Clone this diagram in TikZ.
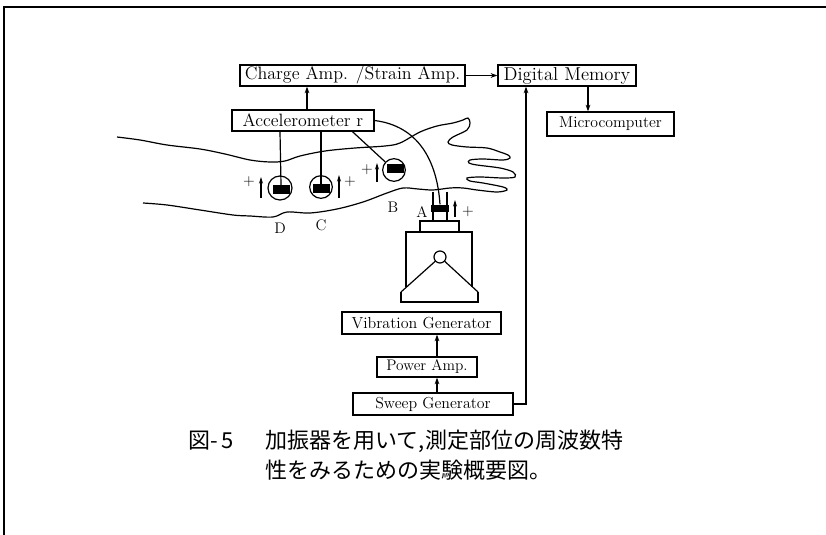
\documentclass[tikz,border=0pt]{standalone}
\usepackage{fontspec}
\newfontfamily\cjk{Noto Sans CJK JP}
\usetikzlibrary{arrows.meta,calc}

\tikzset{every picture/.style={line width=0.9pt}}
\tikzset{
  blk/.style={draw, inner sep=0pt, font=\fontsize{12}{14}\selectfont},
  arr/.style={-{Stealth[length=5pt,width=3.5pt]}},
  pol/.style={-{Stealth[length=5pt,width=3pt]}, line width=0.8pt},
  lbl/.style={inner sep=0.75pt, font=\fontsize{11.5}{13}\selectfont},
  pickup/.style={draw, circle, inner sep=0pt, minimum size=17pt},
  gauge/.style={fill=black, inner sep=0pt, minimum width=12.75pt, minimum height=6.75pt},
  captxt/.style={inner sep=0pt, anchor=west, font=\cjk\fontsize{16.5}{18}\selectfont},
}

\begin{document}
\begin{tikzpicture}[x=0.75pt,y=0.75pt,yscale=-1,xscale=1]
\path[use as bounding box] (0,0) rectangle (826,535);

%Frame
\draw [line width=1.1pt] (4,535) -- (4,7) -- (826,7) ;

% Blocks
\node [blk, minimum width=168.75pt, minimum height=15.75pt, font=\fontsize{13.5}{15}\selectfont] (chg) at (352.5,75.5) {Charge Amp. /Strain Amp.};
\node [blk, minimum width=103.5pt, minimum height=15.75pt, font=\fontsize{14}{15}\selectfont] (mem) at (567,75.5) {Digital Memory};
\node [blk, minimum width=95.25pt, minimum height=18pt, font=\fontsize{11.8}{13}\selectfont] (mic) at (610.5,124) {Microcomputer};
\node [blk, minimum width=106.5pt, minimum height=15.75pt, font=\fontsize{13.4}{15}\selectfont] (acc) at (303,120.5) {Accelerometer r};
\node [blk, minimum width=119.25pt, minimum height=16.5pt] (vib) at (421.5,323) {Vibration Generator};
\node [blk, minimum width=75pt, minimum height=15pt, font=\fontsize{11.5}{13}\selectfont] (pwr) at (427,367) {Power Amp.};
\node [blk, minimum width=120pt, minimum height=16.5pt, font=\fontsize{11.9}{13}\selectfont] (swp) at (433,404) {Sweep Generator};

% Signal path
\coordinate (ac) at (307,0) ;
\coordinate (mc) at (588,0) ;
\coordinate (vx) at (437,0) ;
\coordinate (bus) at (526,404) ;
\draw [arr] (acc.north -| ac) -- (chg.south -| ac) ;
\draw [arr] (chg.east) -- (mem.west) ;
\draw [arr] (mem.south -| mc) -- (mic.north -| mc) ;
\draw [arr] (swp.north -| vx) -- (pwr.south -| vx) ;
\draw [arr] (pwr.north -| vx) -- (vib.south -| vx) ;
\draw [arr] (swp.east) -- (bus) -- (bus |- mem.south) ;

%Curve: arm and hand outline
\draw [smooth, tension=0.55] plot coordinates {(117,137) (140,140) (167,145) (200,149) (225,154) (250,160) (270,162) (285,161) (300,156) (325,151) (355,148) (385,146) (400,143) (420,132) (437,126) (453,123) (463,120) (468,118) (470,123) (467,130) (453,137) (448,142) (452,145) (467,147) (487,148) (500,152) (508,155) (510,158) (503,160) (483,159) (470,160) (469,163) (477,165) (500,168) (513,172) (515,177) (503,178) (480,177) (467,178) (470,181) (483,183) (503,187) (507,190) (497,192) (477,190) (463,188) (450,188) (433,190) (418,189) (403,188) (387,193) (363,202) (337,209) (310,213) (287,212) (273,217) (250,216) (233,215) (200,210) (167,205) (143,203)} ;

% Pickups on the forearm
\node [pickup, minimum size=18pt] (pD) at (280,188) {};
\node [gauge] (gD) at (281,190) {};
\node [pickup] (pC) at (321,187) {};
\node [gauge] (gC) at (321,189) {};
\node [pickup] (pB) at (394,170) {};
\node [gauge] (gB) at (395,169) {};
\draw (acc.south -| pD) -- (gD.north) ;
\draw (acc.south -| pC) -- (gC.north) ;
\draw ($(acc.south west)!0.845!(acc.south east)$) -- (pB) ;

%Shape: exciter
\draw (420,221) rectangle (459,232) ;
\draw (406,287) -- (406,232) -- (472,232) -- (472,287) ;
\draw (401,292) -- (401,302) -- (478,302) -- (478,292) ;
\node [draw, circle, inner sep=0pt, minimum size=9pt] (pvt) at (440,257) {};
\draw (pvt) -- (401,292) ;
\draw (pvt) -- (478,292) ;

% Pickup A on the wrist
\node [gauge, minimum width=13.5pt, minimum height=5.25pt] (gA) at (440,208.5) {};
\draw (433,192) -- (433,221) ;
\draw (447,192) -- (447,221) ;
\draw (acc.east) .. controls (418,126) and (437,160) .. (gA.north) ;

% Polarity arrows
\draw [pol] (261,198) -- (261,177) ;
\draw [pol] (339,198) -- (339,175) ;
\draw [pol] (377,182) -- (377,163) ;
\draw [pol] (455,217) -- (455,200) ;

% Text Node
\node [lbl] (plD) at (249,182) {+};
\node [lbl] (plC) at (350,182) {+};
\node [lbl] (plB) at (367,170) {+};
\node [lbl] (plA) at (468,212) {+};
\node [lbl] (tD) at (280,228) {D};
\node [lbl] (tC) at (321,225) {C};
\node [lbl] (tB) at (393,207) {B};
\node [lbl] (tA) at (422,212) {A};

% Caption
\node [captxt] (fig) at (188,441) {図-\,5};
\node [captxt] (cap1) at (265,441) {加振器を用いて,測定部位の周波数特};
\node [captxt] (cap2) at (265,470) {性をみるための実験概要図。};
\end{tikzpicture}
\end{document}
